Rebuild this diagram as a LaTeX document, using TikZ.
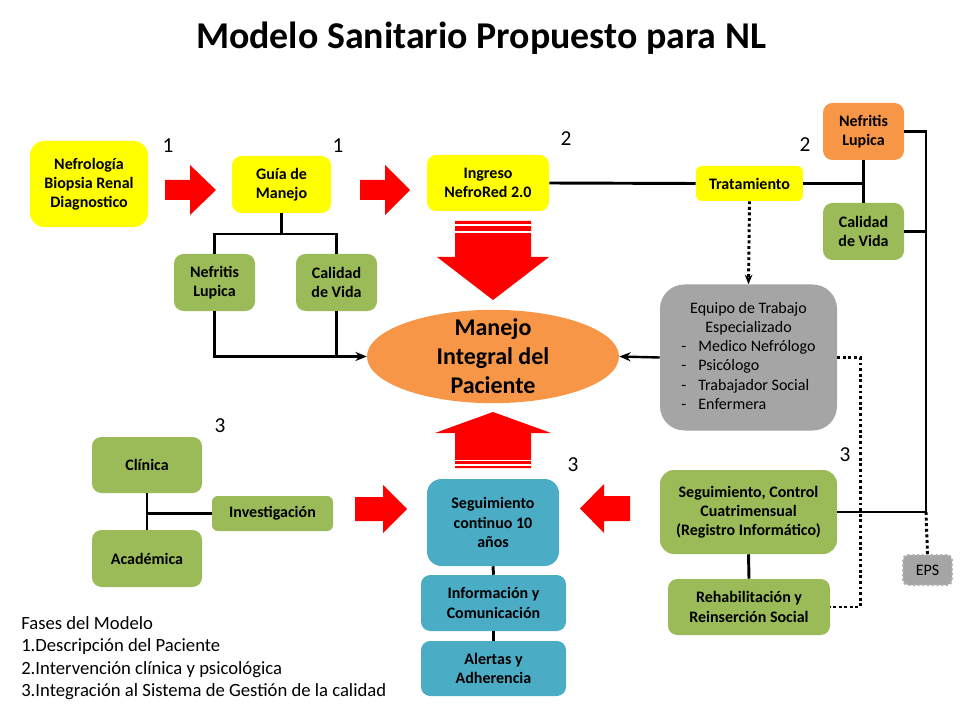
\documentclass[tikz,border=0pt]{standalone}
\usepackage{fontspec}
\setmainfont{Carlito}
\usepackage{tikz}
\usetikzlibrary{arrows.meta,shapes.geometric}

\definecolor{ylw}{HTML}{FFFF00}
\definecolor{grn}{HTML}{9BBB59}
\definecolor{org}{HTML}{F79646}
\definecolor{blu}{HTML}{4BACC6}
\definecolor{gry}{HTML}{A5A5A5}
\definecolor{redar}{HTML}{FF0000}
\tikzset{
  box/.style={align=center, inner sep=2pt,
              font=\fontsize{12}{14.4}\selectfont\bfseries},
  sz/.style 2 args={minimum width=#1*0.75pt, minimum height=#2*0.75pt,
                    rounded corners={min(#1,#2)*0.125pt}},
  conn/.style={line width=2.2pt},
  arr/.style={-{Stealth[length=3mm,width=2.4mm]}, line width=1.8pt},
  dotconn/.style={line width=2.2pt, dotted},
  phase/.style={font=\fontsize{16}{19}\selectfont, inner sep=0pt},
  stripe/.style={white, line width=1.3pt},
}

\begin{document}
\begin{tikzpicture}[x=0.75pt, y=-0.75pt]
  \useasboundingbox (0,0) rectangle (960,720);
  \node[font=\fontsize{28.4}{34}\selectfont\bfseries] (ttl) at (481,38) {Modelo Sanitario Propuesto para NL};
  % fase 1
  \node[box, sz={118}{86}, fill=ylw] (nefro) at (89,184) {Nefrología\\Biopsia Renal\\Diagnostico};
  \node[box, sz={99}{57}, fill=ylw] (guia) at (281.5,184.5) {Guía de\\Manejo};
  \node[box, sz={81}{57}, fill=grn] (lup1) at (214.5,282.5) {Nefritis\\Lupica};
  \node[box, sz={81}{57}, fill=grn] (cal1) at (336.5,282.5) {Calidad\\de Vida};
  % fase 2
  \node[box, sz={122}{56}, fill=ylw] (ingreso) at (488,183) {Ingreso\\NefroRed 2.0};
  \node[box, sz={107}{35}, fill=ylw] (trat) at (749.5,183.5) {Tratamiento};
  \node[box, sz={81}{57}, fill=org] (lup2) at (863.5,131.5) {Nefritis\\Lupica};
  \node[box, sz={81}{57}, fill=grn] (cal2) at (863.5,231.5) {Calidad\\de Vida};
  \node[box, sz={177}{146}, fill=gry, font=\fontsize{12}{14.4}\selectfont] (equipo) at (748.5,357.5)
    {\begin{tabular}{@{}l@{\hspace{9pt}}l@{}}
       \multicolumn{2}{c}{Equipo de Trabajo}\\\multicolumn{2}{c}{Especializado}\\
       -&Medico Nefrólogo\\-&Psicólogo\\-&Trabajador Social\\-&Enfermera
     \end{tabular}};
  % centro
  \node[ellipse, fill=org, minimum width=189pt, minimum height=70pt] (manejo) at (493,356.5) {};
  \node[align=center, font=\fontsize{18}{21.75}\selectfont\bfseries] (mtxt) at (manejo.center) {Manejo\\Integral del\\Paciente};
  % fase 3
  \node[box, sz={132}{87}, fill=blu] (segcont) at (493,522.5) {Seguimiento\\continuo 10\\años};
  \node[box, sz={145}{56}, fill=blu] (info) at (493.5,603) {Información y\\Comunicación};
  \node[box, sz={145}{55}, fill=blu] (alertas) at (493.5,668.5) {Alertas y\\Adherencia};
  \node[box, sz={110}{56}, fill=grn] (clinica) at (147,465) {Clínica};
  \node[box, sz={110}{57}, fill=grn] (academica) at (147,558.5) {Académica};
  \node[box, sz={121}{35}, fill=grn] (invest) at (272.5,513.5) {Investigación};
  \node[box, sz={177}{84}, fill=grn] (segctl) at (748.5,512) {Seguimiento, Control\\Cuatrimensual\\(Registro Informático)};
  \node[box, sz={162}{56}, fill=grn] (rehab) at (749,607) {Rehabilitación y\\Reinserción Social};
  \node[box, sz={49}{30}, fill=gry, draw=gray!60, dotted, line width=1.5pt,
        font=\fontsize{12}{14}\selectfont] (eps) at (927.5,570) {EPS};
  % numeros de fase
  \node[phase] (n1a) at (168,146) {1};
  \node[phase] (n1b) at (338,146) {1};
  \node[phase] (n2a) at (566,139) {2};
  \node[phase] (n2b) at (805,145) {2};
  \node[phase] (n3a) at (220,426) {3};
  \node[phase] (n3b) at (573,465) {3};
  \node[phase] (n3c) at (845,455) {3};
  \node[anchor=north west, align=left, inner sep=0pt, font=\fontsize{14}{16.9}\selectfont] (fases) at (21,616)
    {Fases del Modelo\\1.Descripción del Paciente\\2.Intervención clínica y psicológica\\3.Integración al Sistema de Gestión de la calidad};
  % flechas rojas
  \fill[redar] (165,180) -- (190,180) -- (190,165) -- (216,190) -- (190,215) -- (190,200) -- (165,200) -- cycle;
  \fill[redar] (360,180) -- (385,180) -- (385,165) -- (410,190) -- (385,215) -- (385,200) -- (360,200) -- cycle;
  \fill[redar] (355,497) -- (383,497) -- (383,485) -- (407,509) -- (383,533) -- (383,521) -- (355,521) -- cycle;
  \fill[redar] (630,496) -- (604,496) -- (604,484) -- (580,508.5) -- (604,533) -- (604,521) -- (630,521) -- cycle;
  \fill[redar] (455,221) -- (531,221) -- (531,257) -- (549,257) -- (493,300) -- (437,257) -- (455,257) -- cycle;
  \draw[stripe] (455,225) -- (531,225) (455,232) -- (531,232);
  \fill[redar] (455,468) -- (531,468) -- (531,433) -- (551,433) -- (493,412) -- (435,433) -- (455,433) -- cycle;
  \draw[stripe] (455,460.5) -- (531,460.5) (455,465) -- (531,465);
  % conectores
  \coordinate (gsplit) at (281.5,234);
  \coordinate (bus) at (926,512);
  \draw[conn] (guia.south) -- (gsplit);
  \draw[conn] (lup1.north) |- (gsplit) -| (cal1.north);
  \draw[arr] (lup1.south) |- (manejo.west);
  \draw[conn] (cal1.south) -- (cal1.south |- manejo.west);
  \draw[conn] (ingreso.east) -- (trat.west);
  \draw[conn] (trat.east) -- (trat.east -| lup2.south);
  \draw[conn] (lup2.south) -- (cal2.north);
  \draw[conn] (lup2.east) -| (bus) -- (segctl.east);
  \draw[conn] (cal2.east) -- (cal2.east -| bus);
  \draw[dotconn, -{Stealth[length=2.5mm,width=2mm]}] (trat.south) -- (equipo.north);
  \draw[arr] (equipo.west) -- (manejo.east);
  \draw[dotconn] (equipo.east) -- ++(23,0) |- (rehab.east);
  \draw[dotconn] (bus) -- (eps.north);
  \draw[conn] (segctl.south) -- (rehab.north);
  \draw[conn] (segcont.south) -- (info.north);
  \draw[conn] (info.south) -- (alertas.north);
  \draw[conn] (clinica.south) -- (academica.north);
  \draw[conn] (invest.west -| clinica.south) -- (invest.west);
\end{tikzpicture}
\end{document}
